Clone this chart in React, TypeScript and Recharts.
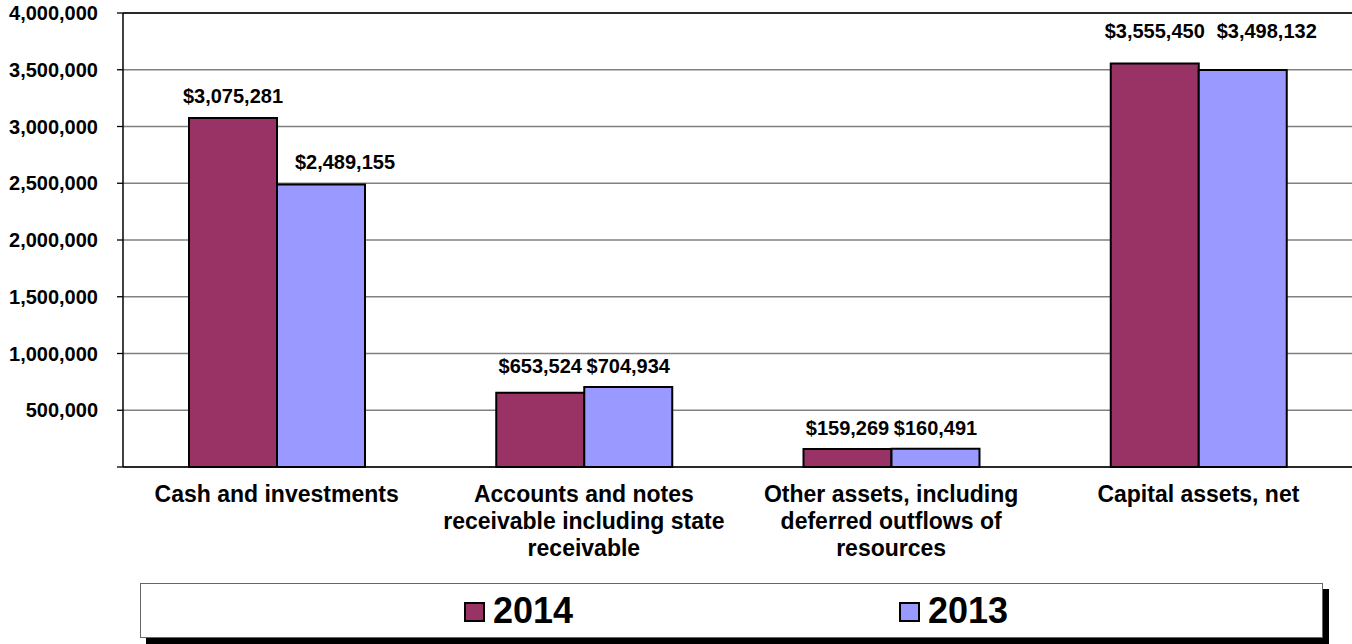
import React from 'react';
import { BarChart, Bar, XAxis, YAxis, CartesianGrid, ReferenceLine, LabelList } from 'recharts';

const categories = [
  'Cash and investments',
  'Accounts and notes receivable including state receivable',
  'Other assets, including deferred outflows of resources',
  'Capital assets, net',
];
const values2014 = [3075281, 653524, 159269, 3555450];
const values2013 = [2489155, 704934, 160491, 3498132];
const yTicks = [0, 500000, 1000000, 1500000, 2000000, 2500000, 3000000, 3500000, 4000000];
const seriesNames = ['2014', '2013'];
const seriesColors = ['#993366', '#9999FF'];

const data = categories.map((c, i) => ({ name: c, v2014: values2014[i], v2013: values2013[i] }));

const FONT = "Arial, 'Liberation Sans', Helvetica, sans-serif";

let ctx: CanvasRenderingContext2D | null = null;
const measure = (s: string) => {
  if (!ctx) {
    ctx = document.createElement('canvas').getContext('2d');
  }
  if (!ctx) return s.length * 12;
  ctx.font = `bold 23px ${FONT}`;
  return ctx.measureText(s).width;
};

const wrap = (s: string, maxW: number) => {
  const words = s.split(' ');
  const lines: string[] = [];
  let cur = '';
  for (const w of words) {
    const t = cur ? cur + ' ' + w : w;
    if (cur && measure(t) > maxW) {
      lines.push(cur);
      cur = w;
    } else {
      cur = t;
    }
  }
  if (cur) lines.push(cur);
  return lines;
};

const CategoryTick = (props: any) => {
  const { x, y, payload } = props;
  const lines = wrap(String(payload.value), 300);
  return (
    <text
      x={x}
      y={y}
      textAnchor="middle"
      fontSize={23}
      fontWeight="bold"
      fontFamily={FONT}
      fill="#000"
    >
      {lines.map((l, i) => (
        <tspan key={i} x={x} dy={i === 0 ? '0.71em' : 27}>
          {l}
        </tspan>
      ))}
    </text>
  );
};

const makeLabel = (seriesIdx: number) => (props: any) => {
  const vb = props.viewBox || {};
  const x = props.x ?? vb.x;
  const y = props.y ?? vb.y;
  const width = props.width ?? vb.width;
  const height = props.height ?? vb.height;
  const value = Number(props.value);
  const index = props.index;
  let baseY = y - 15;
  if (index !== undefined && value > 0 && height > 0) {
    const a = values2014[index];
    const b = values2013[index];
    const mx = Math.max(a, b);
    const mn = Math.min(a, b);
    if ((mx - mn) / mx < 0.1) {
      const base = y + height;
      const pxPerUnit = height / value;
      const topMax = base - mx * pxPerUnit;
      baseY = topMax - (mx > 2000000 ? 25 : 14);
    }
  }
  const txt = '$' + value.toLocaleString('en-US');
  const estW = txt.length * 10;
  let cx = x + width / 2;
  if (seriesIdx === 1 && estW > width) {
    cx = x + 18 + estW / 2;
  }
  return (
    <text
      x={cx}
      y={baseY}
      textAnchor="middle"
      fontSize={20}
      fontWeight="bold"
      fontFamily={FONT}
      fill="#000"
    >
      {txt}
    </text>
  );
};

export default function App() {
  return (
    <div style={{ position: 'absolute', left: 0, top: 0, width: 1352, height: 644, background: '#fff', fontFamily: FONT }}>
      <BarChart
        width={1352}
        height={644}
        data={data}
        margin={{ top: 13, right: 0, bottom: 0, left: 0 }}
        barGap={0}
        barSize={88}
      >
        <CartesianGrid vertical={false} stroke="#808080" strokeWidth={1.3} />
        <ReferenceLine y={4000000} stroke="#000" strokeWidth={1.3} />
        <XAxis
          dataKey="name"
          height={177}
          tickLine={false}
          tickSize={0}
          tickMargin={19}
          axisLine={{ stroke: '#000', strokeWidth: 1.5 }}
          tick={<CategoryTick />}
          interval={0}
        />
        <YAxis
          width={123}
          domain={[0, 4000000]}
          ticks={yTicks}
          tickSize={6}
          tickMargin={19}
          axisLine={{ stroke: '#000', strokeWidth: 1.5 }}
          tickLine={{ stroke: '#000', strokeWidth: 1.3 }}
          tickFormatter={(v: number) => (v === 0 ? '' : v.toLocaleString('en-US'))}
          tick={{ fontSize: 20, fontWeight: 'bold', fill: '#000', fontFamily: FONT }}
          interval={0}
        />
        <Bar dataKey="v2014" name={seriesNames[0]} fill={seriesColors[0]} stroke="#000" strokeWidth={2} isAnimationActive={false}>
          <LabelList dataKey="v2014" content={makeLabel(0)} />
        </Bar>
        <Bar dataKey="v2013" name={seriesNames[1]} fill={seriesColors[1]} stroke="#000" strokeWidth={2} isAnimationActive={false}>
          <LabelList dataKey="v2013" content={makeLabel(1)} />
        </Bar>
      </BarChart>
      <div
        style={{
          position: 'absolute',
          left: 140,
          top: 583,
          width: 1183,
          height: 55,
          boxSizing: 'border-box',
          border: '1.5px solid #666',
          background: '#fff',
          boxShadow: '6px 6px 0 #000',
        }}
      >
        {seriesNames.map((n, i) => (
          <div
            key={n}
            style={{
              position: 'absolute',
              left: i === 0 ? 323 : 758,
              top: 0,
              height: '100%',
              display: 'flex',
              alignItems: 'center',
            }}
          >
            <span
              style={{
                display: 'inline-block',
                width: 17,
                height: 16,
                background: seriesColors[i],
                border: '2px solid #000',
                marginRight: 8,
                marginTop: 2,
              }}
            />
            <span style={{ fontSize: 36, fontWeight: 'bold', color: '#000', fontFamily: FONT, lineHeight: '36px' }}>{n}</span>
          </div>
        ))}
      </div>
    </div>
  );
}
